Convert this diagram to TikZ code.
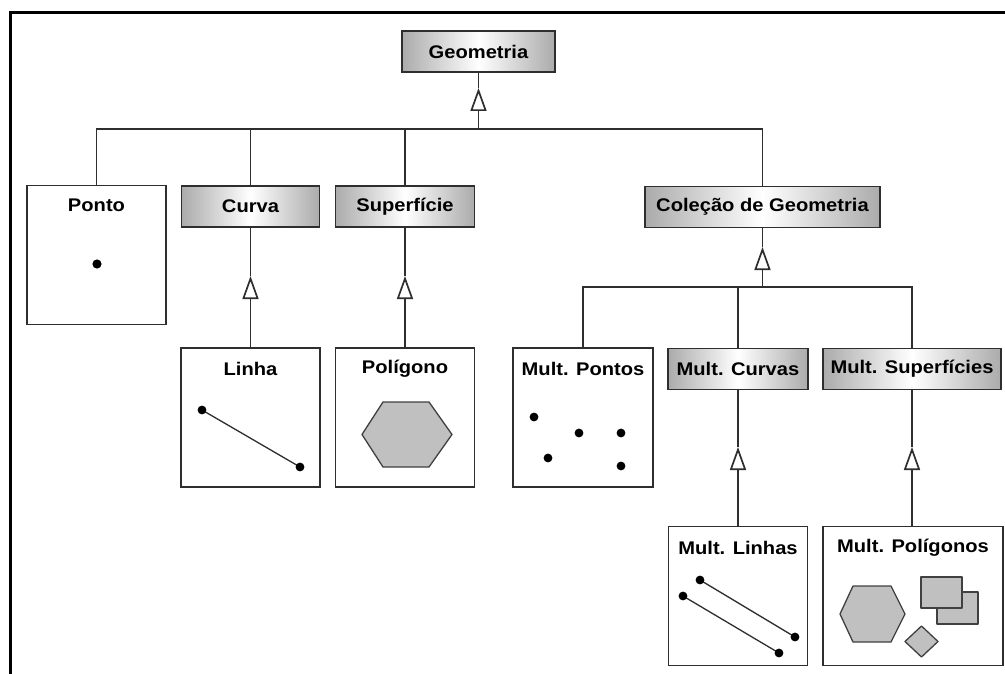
\documentclass[tikz,border=0pt]{standalone}
\usepackage{fontspec}
\setmainfont[FakeStretch=1.1]{Liberation Sans}
\usetikzlibrary{arrows.meta}
\definecolor{edgegray}{HTML}{2E2E2E}
\definecolor{shapegray}{HTML}{C0C0C0}
\definecolor{shapeline}{HTML}{404040}
\begin{document}
\begin{tikzpicture}[x=1pt,y=-1pt,
  labelfont/.style={font=\bfseries\fontsize{18.3}{20}\selectfont},
  header/.style={draw=edgegray, line width=1.6pt, left color=black!33, right color=black!33,
    middle color=white, minimum height=41pt, inner sep=0pt, labelfont},
  classbox/.style={draw=edgegray, line width=1.6pt, fill=white, inner sep=0pt,
    minimum width=139pt, minimum height=139pt},
  boxtitle/.style={inner sep=0pt, labelfont},
  conn/.style={draw=edgegray, line width=1.7pt},
  gen/.style={conn, -{Triangle[open, length=23pt, width=16pt]}},
  dot/.style={fill=black},
  poly/.style={fill=shapegray, draw=shapeline, line width=1.3pt, line join=round},
  seg/.style={draw=edgegray, line width=1.3pt}]
\useasboundingbox (0,0) rectangle (1005,674);

% outer frame (top and left edges)
\draw[line width=3pt] (1010,13) -- (10,13) -- (10,680);

% root
\node[header, minimum width=153pt] (geo) at (478.5,51.5) {Geometria};

% first level
\node[classbox] (ponto) at (96.5,255) {};
\node[boxtitle] (ponto-t) at ([yshift=-21pt]ponto.north) {Ponto};
\node[header, minimum width=138pt] (curva) at (250.5,206.5) {Curva};
\node[header, minimum width=139pt] (sup) at (405,206.5) {Superfície};
\node[header, minimum width=235pt] (col) at (762.5,207) {Coleção de Geometria};

% second level
\node[classbox] (linha) at (250.5,417.5) {};
\node[boxtitle] (linha-t) at ([yshift=-22pt]linha.north) {Linha};
\node[classbox] (pol) at (405,417.5) {};
\node[boxtitle] (pol-t) at ([yshift=-22pt]pol.north) {Polígono};
\node[classbox, minimum width=140pt] (mpontos) at (583,417.5) {};
\node[boxtitle] (mpontos-t) at ([yshift=-22pt]mpontos.north) {Mult. Pontos};
\node[header, minimum width=140pt] (mcurv) at (738,369) {Mult. Curvas};
\node[header, minimum width=178pt] (msup) at (912,369) {Mult. Superfícies};

% third level
\node[classbox] (mlinhas) at (738,596) {};
\node[boxtitle] (mlinhas-t) at ([yshift=-22pt]mlinhas.north) {Mult. Linhas};
\node[classbox, minimum width=180pt] (mpol) at (913,596) {};
\node[boxtitle] (mpol-t) at ([yshift=-22pt]mpol.north) {Mult. Polígonos};

% generalisation: Geometria
\coordinate (b1) at (geo.south |- 0,129);
\coordinate (a1) at (geo.south |- 0,88);
\draw[conn] (geo.south) -- (a1);
\draw[gen] (b1) -- (a1);
\draw[conn] (ponto.north) |- (b1) -| (col.north);
\draw[conn] (curva.north) -- (curva.north |- b1);
\draw[conn] (sup.north) -- (sup.north |- b1);

% Curva -> Linha, Superfície -> Polígono
\coordinate (a2) at (curva.south |- 0,276);
\draw[conn] (curva.south) -- (a2);
\draw[gen] (linha.north) -- (a2);
\coordinate (a3) at (sup.south |- 0,276);
\draw[conn] (sup.south) -- (a3);
\draw[gen] (pol.north) -- (a3);

% generalisation: Coleção de Geometria
\coordinate (b2) at (col.south |- 0,287);
\coordinate (a4) at (col.south |- 0,247);
\draw[conn] (col.south) -- (a4);
\draw[gen] (b2) -- (a4);
\draw[conn] (mpontos.north) |- (b2) -| (msup.north);
\draw[conn] (mcurv.north) -- (mcurv.north |- b2);

% Mult. Curvas -> Mult. Linhas, Mult. Superfícies -> Mult. Polígonos
\coordinate (a5) at (mcurv.south |- 0,447);
\draw[conn] (mcurv.south) -- (a5);
\draw[gen] (mlinhas.north) -- (a5);
\coordinate (a6) at (msup.south |- 0,447);
\draw[conn] (msup.south) -- (a6);
\draw[gen] (msup.south |- mpol.north) -- (a6);

% icons
\fill[dot] (97,264) circle[radius=4.6];

\draw[seg] (202,410) -- (300,467);
\fill[dot] (202,410) circle[radius=4.4];
\fill[dot] (300,467) circle[radius=4.4];

\draw[poly] (362,434.5) -- (383,402) -- (429,402) -- (452,434.5) -- (429,467) -- (383,467) -- cycle;

\foreach \p in {(534,417),(579,433),(621,433),(548,458),(621,466)}
  \fill[dot] \p circle[radius=4.4];

\draw[seg] (700,580) -- (795,637);
\draw[seg] (683,596) -- (779,653);
\foreach \p in {(700,580),(795,637),(683,596),(779,653)}
  \fill[dot] \p circle[radius=4.4];

\draw[poly] (840,614) -- (853,586) -- (891,586) -- (905,614) -- (891,642) -- (853,642) -- cycle;
\draw[poly] (937,592) rectangle (978,624);
\draw[poly] (921,577) rectangle (962,608);
\draw[poly] (921.5,626) -- (938,641.5) -- (921.5,657) -- (905,641.5) -- cycle;
\end{tikzpicture}
\end{document}
